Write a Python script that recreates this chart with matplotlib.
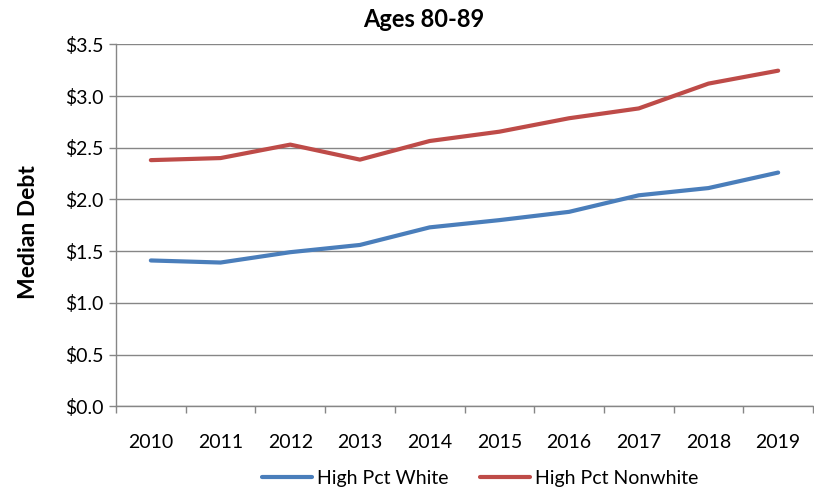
import matplotlib
matplotlib.use("Agg")
import matplotlib.pyplot as plt
from matplotlib.ticker import FixedLocator, FuncFormatter

plt.rcParams['font.family'] = ['Lato', 'DejaVu Sans']

# data
years = ['2010', '2011', '2012', '2013', '2014', '2015', '2016', '2017', '2018', '2019']
high_pct_white = [1.41, 1.39, 1.49, 1.56, 1.73, 1.80, 1.88, 2.04, 2.11, 2.26]
high_pct_nonwhite = [2.38, 2.40, 2.53, 2.385, 2.565, 2.655, 2.785, 2.88, 3.12, 3.245]
y_ticks = [0.0, 0.5, 1.0, 1.5, 2.0, 2.5, 3.0, 3.5]

grey = '#868686'

fig = plt.figure(figsize=(8.14, 4.94), dpi=100)
ax = fig.add_axes([116 / 814, 87.7 / 494, 697 / 814, 362 / 494])

x = list(range(len(years)))
ax.plot(x, high_pct_white, color='#4A7EBB', lw=3, solid_capstyle='round',
        label='High Pct White')
ax.plot(x, high_pct_nonwhite, color='#BE4B48', lw=3, solid_capstyle='round',
        label='High Pct Nonwhite')

ax.set_xlim(-0.5, len(years) - 0.5)
ax.set_ylim(0, 3.5)

# category axis: ticks on boundaries, labels at centers
ax.set_xticks(x)
ax.set_xticklabels(years, fontsize=14)
ax.tick_params(axis='x', which='major', length=0, pad=20)
ax.xaxis.set_minor_locator(FixedLocator([i - 0.5 for i in range(len(years) + 1)]))
ax.tick_params(axis='x', which='minor', length=5, width=1, color=grey, direction='out')

ax.set_yticks(y_ticks)
ax.yaxis.set_major_formatter(FuncFormatter(lambda v, p: f'${v:.1f}'))
ax.tick_params(axis='y', length=5, width=1, color=grey, direction='out', labelsize=14, pad=4)

ax.grid(axis='y', color=grey, lw=1)
ax.set_axisbelow(True)
for s in ['top', 'right']:
    ax.spines[s].set_visible(False)
for s in ['left', 'bottom']:
    ax.spines[s].set_color(grey)
    ax.spines[s].set_linewidth(1)

ax.set_ylabel('Median Debt', fontsize=16.5, fontweight='bold')
ax.yaxis.set_label_coords(-0.111, 0.48)
fig.text(0.52, 0.96, 'Ages 80-89', ha='center', va='center', fontsize=17,
         fontweight='bold')

fig.legend(loc='center', bbox_to_anchor=(0.59, 0.032), ncol=2, frameon=False,
           fontsize=14, handlelength=2.6, handletextpad=0.25, columnspacing=1.6)

fig.savefig('out.png', dpi=100)
